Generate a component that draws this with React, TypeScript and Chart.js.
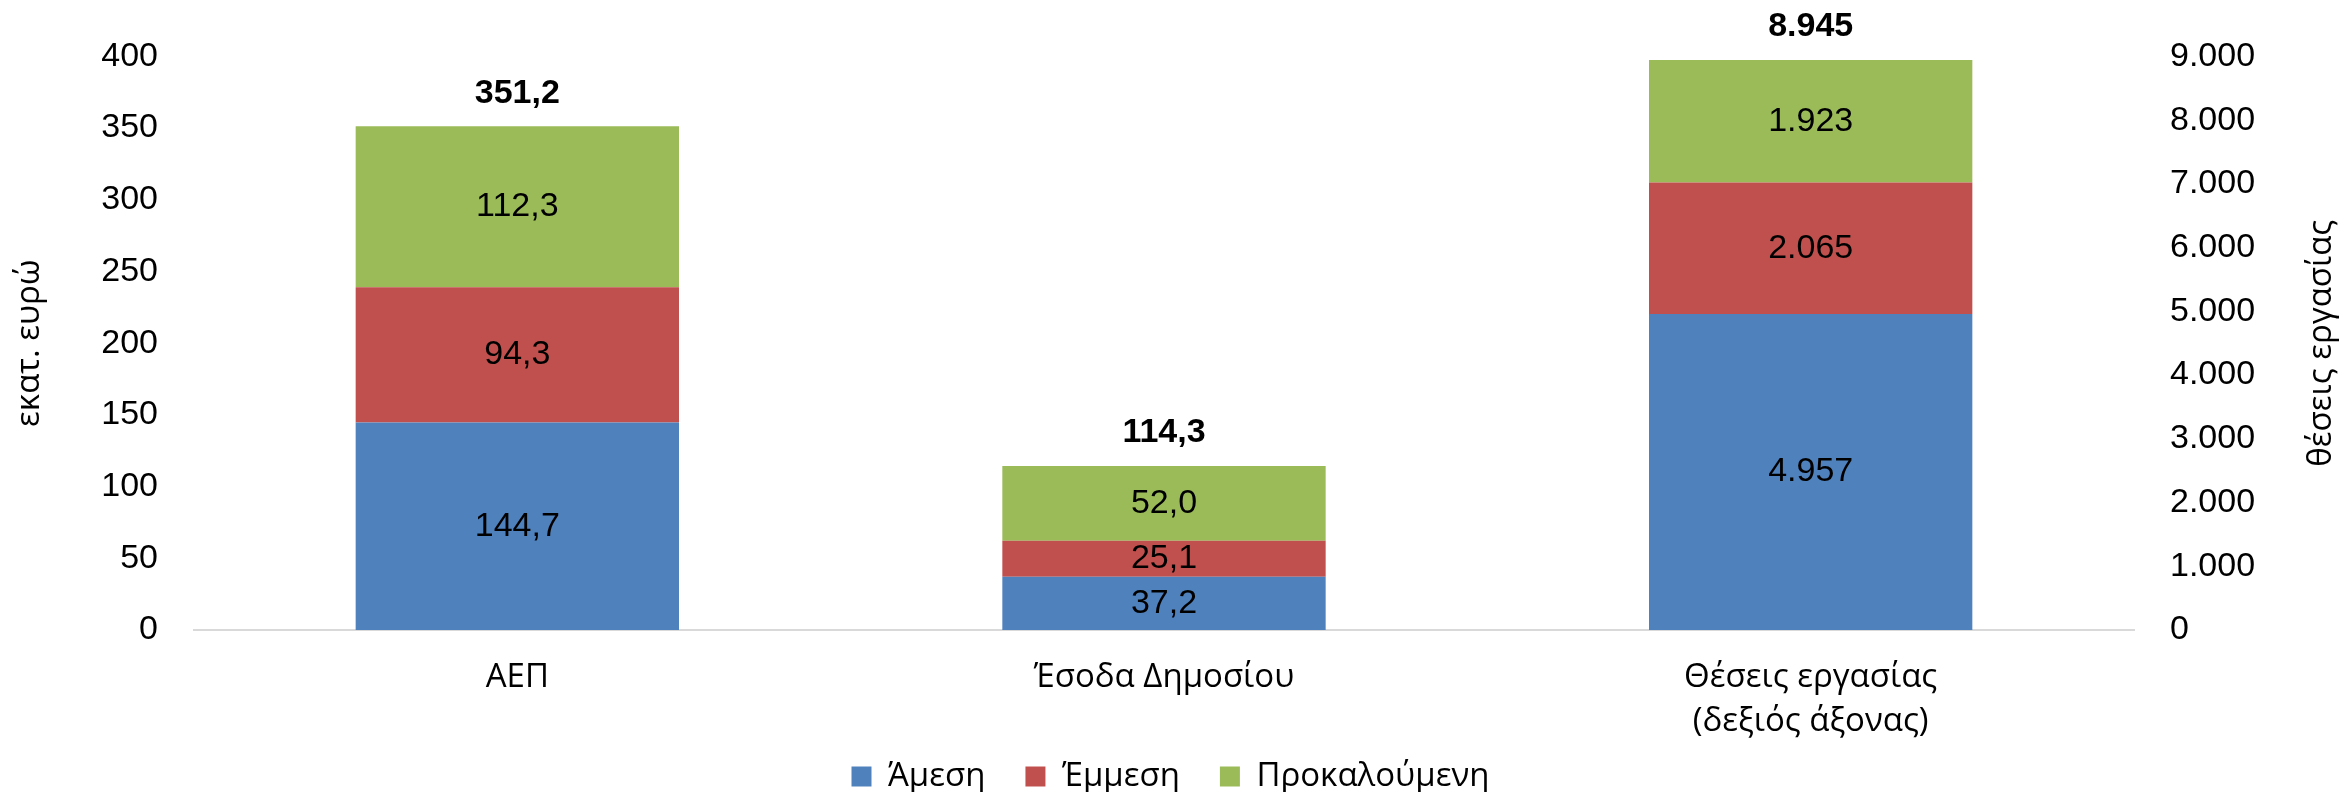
import React, { useEffect, useRef } from 'react';
import { Chart, registerables } from 'chart.js';

Chart.register(...registerables);

// ---------------- data ----------------
const categories: string[][] = [['ΑΕΠ'], ['Έσοδα Δημοσίου'], ['Θέσεις εργασίας', '(δεξιός άξονας)']];
const seriesNames = ['Άμεση', 'Έμμεση', 'Προκαλούμενη'];
// left axis (εκατ. ευρώ)
const directEur = [144.7, 37.2, null];
const indirectEur = [94.3, 25.1, null];
const inducedEur = [112.3, 52.0, null];
// right axis (θέσεις εργασίας)
const directJobs = [null, null, 4957];
const indirectJobs = [null, null, 2065];
const inducedJobs = [null, null, 1923];
// totals shown above bars
const totals = [351.2, 114.3, 8945];
const totalAxis = ['y', 'y', 'y1'];
// axes
const leftAxisTitle = 'εκατ. ευρώ';
const rightAxisTitle = 'θέσεις εργασίας';
const leftMax = 400;
const leftStep = 50;
const rightMax = 9000;
const rightStep = 1000;

const colors = ['#4F81BD', '#C0504D', '#9BBB59'];

const NUM_FONT = '"Liberation Sans", Arial, sans-serif';
const TXT_FONT = '"Open Sans", "Liberation Sans", sans-serif';

const fmtEur = (v: number) => v.toFixed(1).replace('.', ',');
const fmtJobs = (v: number) => Math.round(v).toString().replace(/\B(?=(\d{3})+(?!\d))/g, '.');
const fmt = (v: number, axis: string) => (axis === 'y1' ? fmtJobs(v) : fmtEur(v));

const labelPlugin = {
  id: 'valueLabels',
  afterDatasetsDraw(chart: any) {
    const ctx = chart.ctx;
    ctx.save();
    ctx.fillStyle = '#000';
    ctx.textAlign = 'center';
    ctx.textBaseline = 'middle';
    ctx.font = `34px ${NUM_FONT}`;
    const tops: number[] = categories.map(() => Infinity);
    const xs: number[] = categories.map(() => 0);
    chart.data.datasets.forEach((ds: any, di: number) => {
      const meta = chart.getDatasetMeta(di);
      meta.data.forEach((el: any, i: number) => {
        const v = ds.data[i];
        if (v == null) return;
        const p = el.getProps(['x', 'y', 'base'], true);
        ctx.fillText(fmt(v, ds.yAxisID), p.x, (p.y + p.base) / 2);
        if (p.y < tops[i]) tops[i] = p.y;
        xs[i] = p.x;
      });
    });
    ctx.font = `bold 34px ${NUM_FONT}`;
    totals.forEach((t, i) => {
      ctx.fillText(fmt(t, totalAxis[i]), xs[i], tops[i] - 33);
    });
    // right axis title, rotated like Excel (bottom-to-top)
    const ca = chart.chartArea;
    const y1 = chart.scales.y1;
    ctx.font = `33px ${TXT_FONT}`;
    ctx.translate(y1.right - 19, (ca.top + ca.bottom) / 2);
    ctx.rotate(-Math.PI / 2);
    ctx.fillText(rightAxisTitle, 0, 0);
    ctx.restore();
  },
};

export default function App() {
  const ref = useRef<HTMLCanvasElement | null>(null);

  useEffect(() => {
    document.body.style.margin = '0';
    const canvas = ref.current!;
    const mk = (label: string, data: (number | null)[], axis: string, c: string) => ({
      label,
      data,
      yAxisID: axis,
      stack: 's',
      backgroundColor: c,
      borderWidth: 0,
      categoryPercentage: 0.5,
      barPercentage: 1,
    });
    const chart = new Chart(canvas, {
      type: 'bar',
      data: {
        labels: categories,
        datasets: [
          mk(seriesNames[0], directEur, 'y', colors[0]),
          mk(seriesNames[1], indirectEur, 'y', colors[1]),
          mk(seriesNames[2], inducedEur, 'y', colors[2]),
          mk(seriesNames[0], directJobs, 'y1', colors[0]),
          mk(seriesNames[1], indirectJobs, 'y1', colors[1]),
          mk(seriesNames[2], inducedJobs, 'y1', colors[2]),
        ] as any,
      },
      options: {
        responsive: false,
        animation: false,
        devicePixelRatio: 1,
        layout: { padding: { top: 54, left: 0, right: 0, bottom: -11 } },
        plugins: {
          legend: {
            position: 'bottom',
            labels: {
              boxWidth: 20,
              boxHeight: 20,
              padding: 40,
              color: '#000',
              font: { family: TXT_FONT, size: 33 },
              filter: (item: any) => item.datasetIndex < 3,
            },
          },
          tooltip: { enabled: false },
        },
        scales: {
          x: {
            stacked: true,
            grid: { display: false, drawTicks: false },
            border: { display: true, color: '#D9D9D9', width: 2 },
            ticks: {
              color: '#000',
              padding: 26,
              maxRotation: 0,
              autoSkip: false,
              font: { family: TXT_FONT, size: 33, lineHeight: 44 / 33 },
            },
            afterFit: (s: any) => {
              s.height = 90;
              // let the two-line category label extend below the axis box
              s._computeLabelArea = () => undefined;
            },
          },
          y: {
            position: 'left',
            stacked: true,
            min: 0,
            max: leftMax,
            grid: { display: false, drawTicks: false },
            border: { display: false },
            ticks: {
              stepSize: leftStep,
              color: '#000',
              padding: 36,
              font: { family: NUM_FONT, size: 34 },
              callback: (v: any) => String(v),
            },
            title: {
              display: true,
              text: leftAxisTitle,
              color: '#000',
              font: { family: TXT_FONT, size: 33 },
              padding: { top: 10, bottom: 0 },
            },
            afterFit: (s: any) => {
              s.width = 194;
            },
          },
          y1: {
            position: 'right',
            stacked: true,
            min: 0,
            max: rightMax,
            grid: { display: false, drawTicks: false },
            border: { display: false },
            ticks: {
              stepSize: rightStep,
              color: '#000',
              padding: 36,
              font: { family: NUM_FONT, size: 34 },
              callback: (v: any) => fmtJobs(Number(v)),
            },
            afterFit: (s: any) => {
              s.width = 207;
            },
          },
        },
      } as any,
      plugins: [labelPlugin],
    });
    return () => chart.destroy();
  }, []);

  return (
    <div style={{ position: 'fixed', left: 0, top: 0, width: 2341, height: 792, background: '#fff' }}>
      <canvas ref={ref} width={2341} height={792} style={{ display: 'block', width: 2341, height: 792 }} />
    </div>
  );
}
